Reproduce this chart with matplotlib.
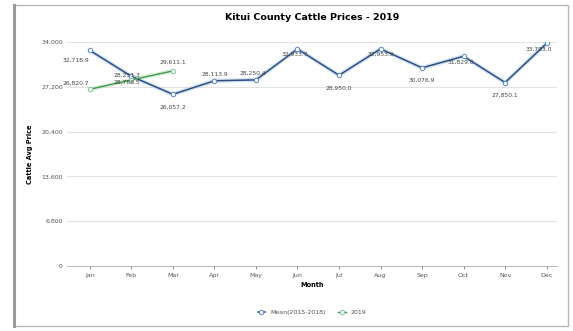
import matplotlib
matplotlib.use('agg')
import matplotlib.pyplot as plt
from matplotlib.patches import Rectangle
from matplotlib.ticker import FuncFormatter

# chart data
months = ['Jan', 'Feb', 'Mar', 'Apr', 'May', 'Jun',
          'Jul', 'Aug', 'Sep', 'Oct', 'Nov', 'Dec']
mean_2015_2018 = [32718.9, 28788.5, 26057.2, 28113.9, 28250.4, 32933.7,
                  28950.0, 32953.9, 30076.9, 31829.0, 27850.1, 33793.0]
prices_2019 = [26820.7, 28251.3, 29611.1]
y_ticks = [0, 6800, 13600, 20400, 27200, 34000]

MEAN_COLOR = '#2e4d80'
GLOW_COLOR = '#b6d1ee'
GREEN = '#3f9a4c'

fig = plt.figure(figsize=(5.73, 3.31), dpi=100)
fig.patch.set_facecolor('white')

# outer frame
fig.add_artist(Rectangle((14 / 573, 5 / 331), 554 / 573, 321 / 331,
                         transform=fig.transFigure, fill=False,
                         edgecolor='#b8b8b8', linewidth=1.0))
fig.add_artist(plt.Line2D([14 / 573, 14 / 573], [5 / 331, 326 / 331],
                          transform=fig.transFigure, color='#9a9a9a', lw=2.2))

ax = fig.add_axes([67 / 573, 1 - 266 / 331, 490 / 573, 224 / 331])
x = list(range(len(months)))

# mean line with soft glow
ax.plot(x, mean_2015_2018, color=GLOW_COLOR, lw=3, alpha=0.6, zorder=2,
        solid_capstyle='round')
ax.plot(x, mean_2015_2018, color=MEAN_COLOR, lw=1.1, marker='o', markersize=3.2,
        markerfacecolor='white', markeredgecolor='#5b86c0', markeredgewidth=0.7,
        zorder=3, label='Mean(2015-2018)')

x19 = x[:len(prices_2019)]
ax.plot(x19, prices_2019, color='#bfe3c2', lw=2.8, alpha=0.6, zorder=2)
ax.plot(x19, prices_2019, color=GREEN, lw=1.0, marker='o', markersize=3.2,
        markerfacecolor='white', markeredgecolor='#7fc4a0', markeredgewidth=0.7,
        zorder=3, label='2019')

# data labels (offsets in points)
mean_offsets = [(-10, -7), (-3, -4), (0, -9), (0, 5), (-2, 5), (-2, -4),
                (0, -9), (0, -4), (0, -9), (-2, -4), (0, -9), (-6, -4)]
for xi, v, (dx, dy) in zip(x, mean_2015_2018, mean_offsets):
    ax.annotate(f'{v:,.1f}', (xi, v), xytext=(dx, dy), textcoords='offset points',
                ha='center', va='center', fontsize=4.3, color='#444444', zorder=4)
offsets_19 = [(-10, 4), (-3, 3), (0, 6)]
for xi, v, (dx, dy) in zip(x19, prices_2019, offsets_19):
    ax.annotate(f'{v:,.1f}', (xi, v), xytext=(dx, dy), textcoords='offset points',
                ha='center', va='center', fontsize=4.3, color='#444444', zorder=4)

# axes
ax.set_xlim(-0.55, 11.25)
ax.set_ylim(0, 34000)
ax.set_xticks(x)
ax.set_xticklabels(months)
ax.set_yticks(y_ticks)
ax.yaxis.set_major_formatter(FuncFormatter(lambda v, p: f'{v:,.0f}'))
ax.tick_params(axis='both', labelsize=4.5, colors='#555555', length=2,
               width=0.5, pad=3)
ax.tick_params(axis='y', length=0)
ax.grid(axis='y', color='#e2e2e2', lw=0.8)
ax.set_axisbelow(True)
for side in ['top', 'right', 'left']:
    ax.spines[side].set_visible(False)
ax.spines['bottom'].set_color('#aaaaaa')
ax.spines['bottom'].set_linewidth(0.6)

ax.set_xlabel('Month', fontsize=4.8, fontweight='bold', labelpad=3)
ax.set_ylabel('Cattle Avg Price', fontsize=4.8, fontweight='bold')
ax.yaxis.set_label_coords(-0.07, 0.5)
ax.set_title('Kitui County Cattle Prices - 2019', fontsize=6.8,
             fontweight='bold', pad=16)

ax.legend(loc='upper center', bbox_to_anchor=(0.5, -0.17), ncol=2,
          frameon=False, fontsize=4.5, handlelength=1.2, columnspacing=2.0,
          labelcolor='#555555')

fig.savefig('out.png', dpi=100)
